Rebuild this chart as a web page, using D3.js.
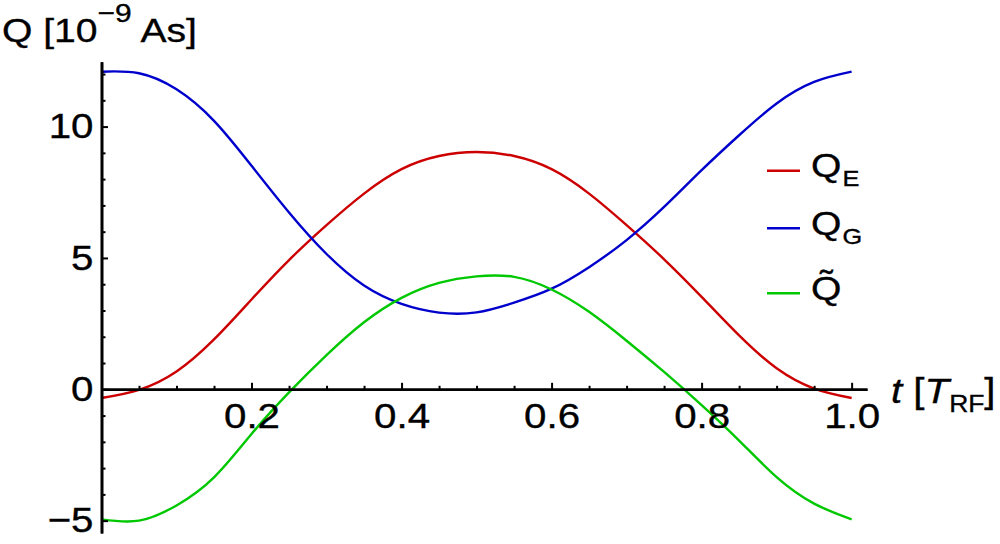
<!DOCTYPE html>
<html><head><meta charset="utf-8">
<script src="https://cdn.jsdelivr.net/npm/d3@7/dist/d3.min.js"></script>
<style>
body{margin:0;background:#fff}
svg{display:block}
text{font-family:"Liberation Sans",Arial,sans-serif;fill:#000;stroke:#000;stroke-width:0.35px}
</style>
</head><body>
<svg id="chart" width="1000" height="544"></svg>
<script>
// ---- data ----
const tValues = [0,0.05,0.1,0.15,0.2,0.25,0.3,0.35,0.4,0.45,0.5,0.55,0.6,0.65,0.7,0.75,0.8,0.85,0.9,0.95,1.0];
const qE     = [-0.33,-0.02,0.68,1.9,3.42,4.92,6.25,7.45,8.38,8.88,9.03,8.88,8.38,7.45,6.25,4.95,3.52,2.05,0.8,0.03,-0.33];
const qG     = [12.09,12.03,11.42,10.22,8.51,6.73,5.15,3.95,3.25,2.92,2.93,3.3,3.83,4.65,5.68,6.94,8.34,9.67,10.88,11.7,12.09];
const qTilde = [-4.95,-5.0,-4.42,-3.35,-1.7,-0.12,1.3,2.55,3.48,4.05,4.3,4.28,3.8,2.95,1.85,0.66,-0.6,-1.95,-3.34,-4.35,-4.95];

const xMajorTicks = [0.2,0.4,0.6,0.8,1.0];
const xTickLabels = ["0.2","0.4","0.6","0.8","1.0"];
const xMinorTicks = [0.05,0.1,0.15,0.25,0.3,0.35,0.45,0.5,0.55,0.65,0.7,0.75,0.85,0.9,0.95];
const yMajorTicks = [-5,0,5,10];
const yTickLabels = ["\u22125","0","5","10"];
const yMinorTicks = [-4,-3,-2,-1,1,2,3,4,6,7,8,9,11,12];

const seriesMain = ["Q","Q","Q\u0303"];
const seriesSub  = ["E","G",""];
const seriesColors = ["#cc0000","#0000cc","#00c800"];

// ---- drawing ----
const SX = 1.15; // horizontal stretch of the glyphs in the reference
const svg = d3.select("#chart");
const x = d3.scaleLinear().domain([0,1.0205]).range([101.5,867]);
const y = d3.scaleLinear().domain([-5.47,12.47]).range([533,61.7]);

const data = [qE,qG,qTilde];
const line = d3.line().x((d,i)=>x(tValues[i])).y(d=>y(d)).curve(d3.curveNatural);

const plot = svg.append("g");
data.forEach((s,k)=>{
  plot.append("path").attr("d",line(s)).attr("fill","none")
    .attr("stroke",seriesColors[k]).attr("stroke-width",2.4).attr("stroke-linejoin","round");
});

function styleAxis(g, dw){
  g.select(".domain").attr("stroke","#000").attr("stroke-width",dw);
  g.selectAll(".tick line").attr("stroke","#000").attr("stroke-width",2);
  g.selectAll("text").attr("font-size",35).attr("font-family","Liberation Sans, Arial, sans-serif")
    .attr("fill","#000").attr("transform",`scale(${SX},1)`);
}

// x axis (at y=0)
const gx = svg.append("g").attr("transform",`translate(0,${y(0)})`);
gx.call(d3.axisBottom(x).tickValues(xMinorTicks).tickSizeInner(-3.5).tickSizeOuter(0).tickFormat(""));
styleAxis(gx,2.4);
const gx2 = svg.append("g").attr("transform",`translate(0,${y(0)})`);
gx2.call(d3.axisBottom(x).tickValues(xMajorTicks).tickSizeInner(-6.5).tickSizeOuter(0).tickPadding(14)
   .tickFormat((d,i)=>xTickLabels[i]));
styleAxis(gx2,2.4);

// y axis (at t=0)
const gy = svg.append("g").attr("transform",`translate(${x(0)},0)`);
gy.call(d3.axisLeft(y).tickValues(yMinorTicks).tickSizeInner(-4).tickSizeOuter(0).tickFormat(""));
styleAxis(gy,2.6);
const gy2 = svg.append("g").attr("transform",`translate(${x(0)},0)`);
gy2.call(d3.axisLeft(y).tickValues(yMajorTicks).tickSizeInner(-6.5).tickSizeOuter(0).tickPadding(7)
   .tickFormat((d,i)=>yTickLabels[i]));
styleAxis(gy2,2.6);

// helper: stretched text anchored at (px,py)
function label(px,py,size){
  return svg.append("g").attr("transform",`translate(${px},${py}) scale(${SX},1)`)
    .append("text").attr("x",0).attr("y",0).attr("font-size",size);
}

// axis labels
const yl = label(2,42,34);
yl.append("tspan").text("Q [10");
yl.append("tspan").attr("font-size",26).attr("dy",-20).text("\u22129");
yl.append("tspan").attr("dy",20).text(" As]");

const xl = label(891,403,35);
xl.append("tspan").attr("font-style","italic").text("t");
xl.append("tspan").text(" [");
xl.append("tspan").attr("font-style","italic").text("T");
xl.append("tspan").attr("font-size",23).attr("dy",9).text("RF");
xl.append("tspan").attr("dy",-9).text("]");

// legend
const legY = [170.7,228.3,293.3];
data.forEach((s,k)=>{
  svg.append("line").attr("x1",767).attr("x2",800).attr("y1",legY[k]).attr("y2",legY[k])
    .attr("stroke",seriesColors[k]).attr("stroke-width",2.4);
  const t = label(811,legY[k]+6.5,34);
  t.append("tspan").text(seriesMain[k]);
  if(seriesSub[k]) t.append("tspan").attr("font-size",22).attr("dy",9).attr("dx",1).text(seriesSub[k]);
});
</script>
</body></html>
